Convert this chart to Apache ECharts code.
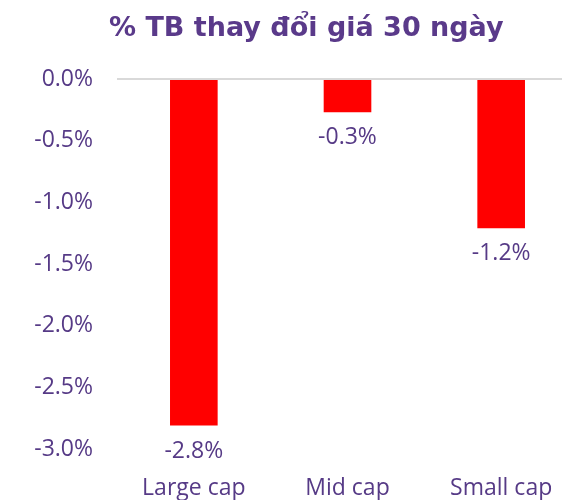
<!DOCTYPE html>
<html>
<head>
<meta charset="utf-8">
<script src="https://cdn.jsdelivr.net/npm/echarts@6/dist/echarts.min.js"></script>
<style>
  html, body { margin: 0; padding: 0; background: #fff; overflow: hidden; }
  /* the plot runs past the right edge, as in the original crop */
  #chart { width: 600px; height: 500px; }
</style>
</head>
<body>
<div id="chart"></div>
<script>
// danh mục và giá trị (%)
const categories = ['Large cap', 'Mid cap', 'Small cap'];
const values = [-2.81, -0.27, -1.21];
const yTicks = [0, -0.5, -1.0, -1.5, -2.0, -2.5, -3.0];

const purple = '#563a86';
const font = 'Open Sans';

const chart = echarts.init(document.getElementById('chart'));
const option = {
  animation: false,
  title: {
    text: '% TB thay đổi giá 30 ngày',
    left: 104,
    top: 10,
    textStyle: { color: '#5a3a8a', fontSize: 27, fontWeight: 'bold', fontStyle: 'normal', fontFamily: 'DejaVu Sans' }
  },
  grid: { left: 117, top: 79, width: 461, height: 370 },
  xAxis: {
    type: 'category',
    data: categories,
    axisLine: { show: false },
    axisTick: { show: false },
    axisLabel: { color: purple, fontSize: 23, fontFamily: font, margin: 28 }
  },
  yAxis: {
    type: 'value',
    min: yTicks[yTicks.length - 1],
    max: yTicks[0],
    interval: 0.5,
    splitLine: { show: false },
    axisLine: { show: false },
    axisTick: { show: false },
    axisLabel: {
      color: purple, fontSize: 23, fontFamily: font, margin: 24,
      formatter: v => v.toFixed(1) + '%'
    }
  },
  series: [{
    type: 'bar',
    data: values,
    barWidth: '31%',
    itemStyle: { color: '#ff0000' },
    label: {
      show: true,
      position: 'bottom',
      distance: 14,
      color: purple,
      fontSize: 23,
      fontFamily: font,
      formatter: p => p.value.toFixed(1) + '%'
    },
    markLine: {
      silent: true,
      symbol: 'none',
      label: { show: false },
      lineStyle: { color: '#d9d9d9', width: 2, type: 'solid' },
      data: [{ yAxis: 0 }]
    }
  }]
};
chart.setOption(option);
</script>
</body>
</html>
